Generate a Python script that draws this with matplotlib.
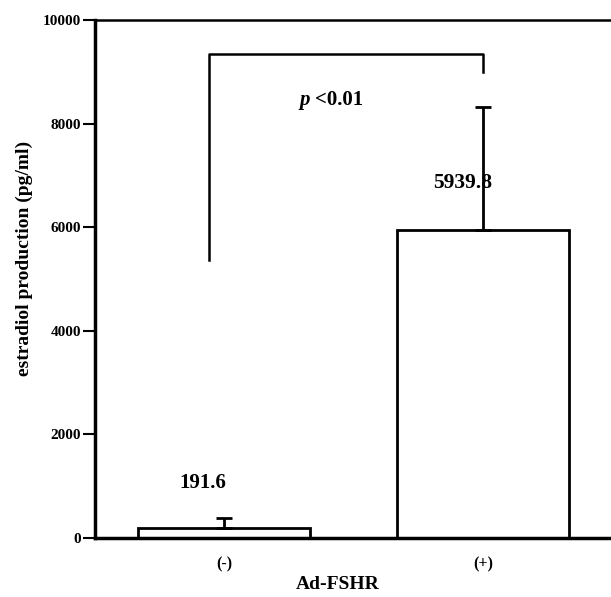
import numpy as np
import matplotlib.pyplot as plt

plt.rcParams['font.family'] = ['Liberation Serif', 'DejaVu Serif']
plt.rcParams['font.weight'] = 'bold'

groups = ['(-)', '(+)']
means = [191.6, 5939.8]
errs = [200, 2380]
value_labels = ['191.6', '5939.8']
bracket_left_y = 5370
bracket_right_y = 9000
bracket_top = 9340

fig = plt.figure(figsize=(6.11, 5.97), dpi=100)
ax = fig.add_axes([0.1555, 0.0988, 0.8445, 0.8677])

x = np.arange(len(groups))
ax.bar(x, means, width=0.664, color='white', edgecolor='black', linewidth=2, zorder=2)
ax.errorbar(x, means, yerr=[[0, 0], errs], fmt='none', ecolor='black',
            elinewidth=2, capsize=6, capthick=2, zorder=3)

# significance bracket
xl = x[0] - 0.058
ax.plot([xl, xl, x[1], x[1]], [bracket_left_y, bracket_top, bracket_top, bracket_right_y],
        color='black', lw=1.8)
ax.text(0.313, 8450, 'p', ha='center', va='center', fontsize=15, style='italic')
ax.text(0.351, 8450, '<0.01', ha='left', va='center', fontsize=15)

ax.text(-0.081, 1060, value_labels[0], ha='center', va='center', fontsize=15)
ax.text(0.92, 6850, value_labels[1], ha='center', va='center', fontsize=15.5)

ax.set_xlim(-0.498, 1.494)
ax.set_ylim(0, 10000)
ax.set_yticks([0, 2000, 4000, 6000, 8000, 10000])
ax.set_xticks(x)
ax.set_xticklabels(groups, fontsize=11.5)
ax.tick_params(axis='y', labelsize=11, length=9, width=1.5, pad=1)
ax.tick_params(axis='x', length=0, pad=13)

ax.spines['right'].set_visible(False)
ax.spines['left'].set_linewidth(2.5)
ax.spines['bottom'].set_linewidth(2.5)
ax.spines['top'].set_linewidth(1.8)

ax.set_ylabel('estradiol production (pg/ml)', fontsize=14, fontweight='bold')
ax.yaxis.set_label_coords(-0.12, 0.54)
ax.set_xlabel('Ad-FSHR', fontsize=14, fontweight='bold', va='center')
ax.xaxis.set_label_coords(0.471, -0.09)

fig.savefig('out.png', dpi=100)
